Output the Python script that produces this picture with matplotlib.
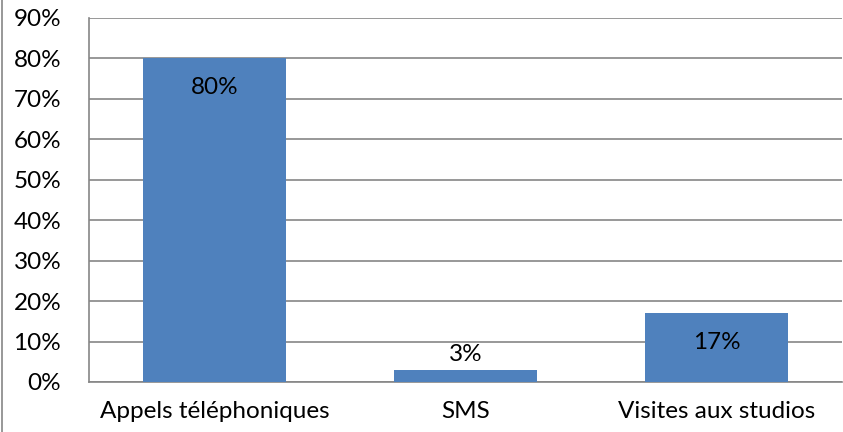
import matplotlib.pyplot as plt
import matplotlib.lines as mlines

categories = ['Appels téléphoniques', 'SMS', 'Visites aux studios']
values = [80, 3, 17]
labels = ['80%', '3%', '17%']
label_offsets = [-7.3, 3.7, -7.3]

plt.rcParams['font.family'] = ['Lato', 'DejaVu Sans']
fs = 17.5

fig = plt.figure(figsize=(8.43, 4.32), dpi=100)
ax = fig.add_axes([89/843, 1 - 382/432, (842-89)/843, (382-18)/432])

x = range(len(categories))
ax.bar(x, values, width=0.57, color='#4F81BD', zorder=3)
for i, v in enumerate(values):
    ax.text(i, v + label_offsets[i], labels[i], ha='center', va='center', fontsize=fs, zorder=4)

ax.set_xlim(-0.5, 2.5)
ax.set_ylim(0, 90)
ax.set_yticks(range(0, 91, 10))
ax.set_yticklabels([str(t) + '%' for t in range(0, 91, 10)])
ax.set_xticks(list(x))
ax.set_xticklabels(categories)
ax.tick_params(axis='both', length=0, labelsize=fs)
ax.tick_params(axis='y', pad=20)
ax.tick_params(axis='x', pad=14)
ax.yaxis.grid(True, color='#868686', linewidth=1.2, zorder=0)
for s in ['top', 'right']:
    ax.spines[s].set_visible(False)
for s in ['left', 'bottom']:
    ax.spines[s].set_color('#868686')
    ax.spines[s].set_linewidth(1.2)

fig.add_artist(mlines.Line2D([2/843, 2/843], [0, 1], color='#868686', linewidth=1.2))

plt.savefig('out.png')
